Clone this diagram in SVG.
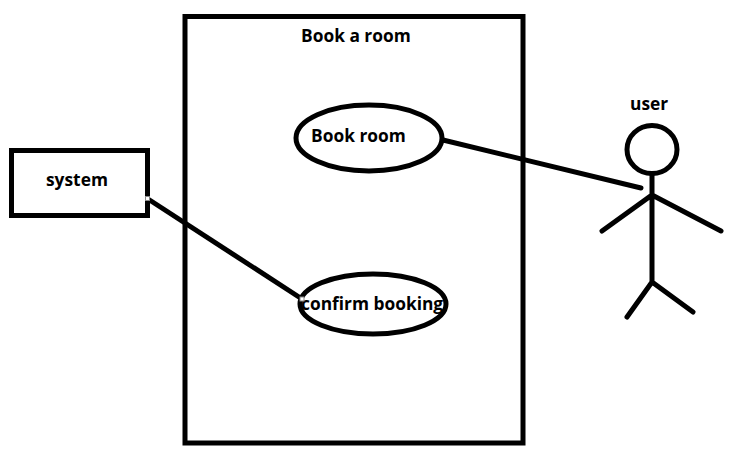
<svg xmlns="http://www.w3.org/2000/svg" width="736" height="452" viewBox="0 0 736 452">
<style>
.s{fill:none;stroke:#000;stroke-width:5}
.l{stroke-linecap:round}
.h{fill:#fff;stroke:#888;stroke-width:1}
.t{font-family:"Open Sans","Liberation Sans",sans-serif;font-weight:700;font-size:17.35px;fill:#000}
</style>
<rect width="736" height="452" fill="#fff"/>
<g id="boundary"><rect class="s" x="185" y="16.5" width="338" height="426.5"/><text class="t" x="301" y="42">Book a room</text></g>
<g id="book-room"><ellipse class="s" cx="369" cy="138" rx="73" ry="33"/><text class="t" x="311" y="142">Book room</text></g>
<g id="confirm-booking"><ellipse class="s" cx="373" cy="304" rx="73" ry="30"/><text class="t" x="301" y="310">confirm booking</text></g>
<g id="system"><rect class="s" x="11.5" y="150.5" width="136" height="65"/><text class="t" x="46" y="186">system</text></g>
<g id="user"><ellipse class="s" cx="652" cy="149.5" rx="25" ry="24"/>
<path class="s l" d="M652 174V282M602 231L652 195L721 231M627 317L652 282L693 312"/><text class="t" x="630" y="110">user</text></g>
<g id="connectors"><path class="s l" d="M443 140L641 188"/><path class="s" d="M148 199L302 299"/>
<rect class="h" x="145.5" y="196.5" width="4" height="4"/><rect class="h" x="300" y="297" width="4" height="4"/></g>
</svg>
